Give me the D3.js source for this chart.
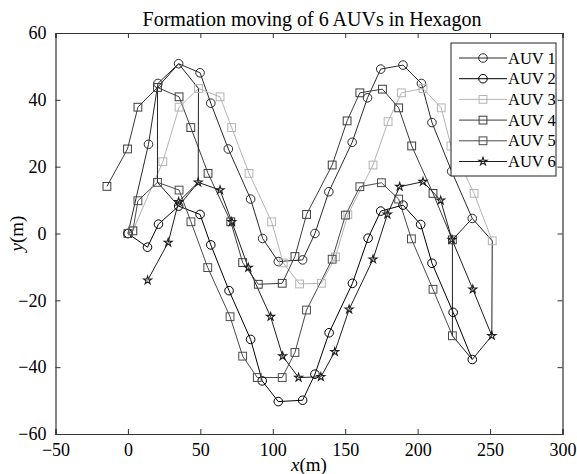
<!DOCTYPE html>
<html>
<head>
<meta charset="utf-8">
<script src="https://cdn.jsdelivr.net/npm/d3@7"></script>
<style>
  body { margin: 0; background: #fff; }
  text { font-family: "Liberation Serif", "Times New Roman", serif; fill: #000; }
</style>
</head>
<body>
<script>
// trajectories (21 steps per vehicle)
var auv1X = [0, 14.2, 20.7, 35, 49.8, 57.2, 69.3, 84.7, 93, 103.8, 120.6, 129.1, 138.7, 154.8, 165.4, 174.5, 189.9, 202.6, 209.9, 223.5, 237.7];
var auv1Y = [0, 26.7, 44.9, 50.8, 48.1, 39, 25.3, 10.3, -1.5, -8.4, -7.9, 0, 12.5, 27.3, 40.6, 49.2, 50.4, 44.9, 33.2, 18.6, 4.5];

var auv2X = [0, 13.5, 21.1, 35, 49.8, 57.2, 69.8, 84.7, 92.7, 103.8, 120.6, 129.1, 138.9, 155, 165.8, 174.5, 189.9, 202.1, 209.9, 224.5, 237.7];
var auv2Y = [0, -4.1, 2.8, 8.2, 5.7, -3.4, -17.1, -31.7, -44.1, -50.3, -49.9, -42.1, -29.7, -14.9, -1.4, 6.7, 8.5, 2.7, -8.9, -23.6, -37.7];

var auv3X = [3.4, 24.1, 35.3, 48.7, 63.6, 71.6, 83.6, 99.2, 107.2, 118.5, 133.5, 143.3, 151.8, 169.2, 179.6, 188.8, 203.7, 216.3, 223, 239, 251.5];
var auv3Y = [0.8, 21.5, 37.8, 43.4, 40.9, 31.7, 18, 3.5, -8.8, -15.1, -14.9, -7, 5.6, 20.5, 33.5, 42.1, 43.4, 37.6, 26.2, 12, -2.2];

var auv4X = [-14.5, -0.3, 6.9, 20.4, 35.3, 43.4, 55.3, 71, 79.2, 90, 106.5, 115.3, 123.3, 141, 151.3, 160.1, 175.7, 186.9, 195.9, 210.6, 224];
var auv4Y = [14.1, 25.3, 37.8, 43.7, 40.9, 31.7, 18, 3.5, -8.7, -15.2, -14.9, -6.9, 5.7, 20.5, 33.7, 42.1, 43.2, 37.6, 26.2, 12, -1.9];

var auv5X = [0, 3.4, 6.9, 20.4, 35.3, 43.5, 55.1, 70.5, 79.2, 89.3, 106.5, 115.3, 123.3, 141, 150.2, 160.1, 175, 186.9, 195.7, 210.6, 224];
var auv5Y = [0, 0.8, 9.8, 15.3, 13, 3.5, -10.2, -24.9, -36.7, -43.1, -43.1, -35.6, -22.9, -7.7, 5.5, 14, 15.2, 10.3, -1.6, -16.7, -30.6];

var auv6X = [13.6, 27.8, 35, 48.5, 63.6, 71.7, 83.1, 98.5, 106.8, 117.8, 133.2, 142.8, 152.7, 169.2, 179.1, 187.6, 203.7, 215.9, 223.7, 238.1, 251.2];
var auv6Y = [-14, -2.7, 9.5, 15.3, 13, 3.5, -10.2, -24.9, -36.7, -43.1, -42.9, -35.4, -22.7, -7.7, 5.7, 14, 15.5, 9.9, -1.8, -16.7, -30.6];

var names = ["AUV 1", "AUV 2", "AUV 3", "AUV 4", "AUV 5", "AUV 6"];
var xTicks = [-50, 0, 50, 100, 150, 200, 250, 300];
var yTicks = [-60, -40, -20, 0, 20, 40, 60];

// steps at which the hexagon outline is drawn, and vertex order (series index)
var hexSteps = [3, 20];
var hexOrder = [3, 0, 2, 5, 1, 4, 3];

var colors = ["#2a2a2a", "#000000", "#b4b4b4", "#3c3c3c", "#4a4a4a", "#1e1e1e"];
var shapes = ["circle", "circle", "square", "square", "square", "star"];

var series = [
  {x: auv1X, y: auv1Y}, {x: auv2X, y: auv2Y}, {x: auv3X, y: auv3Y},
  {x: auv4X, y: auv4Y}, {x: auv5X, y: auv5Y}, {x: auv6X, y: auv6Y}
].map(function (s, i) {
  return {
    name: names[i], color: colors[i], shape: shapes[i],
    pts: s.x.map(function (v, k) { return [v, s.y[k]]; })
  };
});

var W = 577, H = 474;
var margin = {top: 33, right: 14.5, bottom: 40, left: 55.5},
    width = W - margin.left - margin.right,
    height = H - margin.top - margin.bottom;

var svg = d3.select("body").append("svg")
    .attr("width", W)
    .attr("height", H);

var g = svg.append("g")
    .attr("transform", "translate(" + margin.left + "," + margin.top + ")");

var x = d3.scaleLinear().domain([-50, 300]).range([0, width]);
var y = d3.scaleLinear().domain([-60, 60]).range([height, 0]);

function marker(sel, shape, color) {
  if (shape === "circle") {
    sel.append("circle").attr("r", 4.3)
      .attr("fill", "none").attr("stroke", color).attr("stroke-width", 1);
  } else if (shape === "square") {
    sel.append("rect").attr("x", -3.9).attr("y", -3.9)
      .attr("width", 7.8).attr("height", 7.8)
      .attr("fill", "none").attr("stroke", color).attr("stroke-width", 1);
  } else {
    sel.append("path").attr("d", d3.symbol(d3.symbolStar, 20)())
      .attr("fill", "none").attr("stroke", color).attr("stroke-width", 1.1);
  }
}

var line = d3.line().x(function (d) { return x(d[0]); }).y(function (d) { return y(d[1]); });

// axes (ticks inward, mirrored on all sides)
var tickLen = 5;
var xAxis = g.append("g").attr("transform", "translate(0," + height + ")")
  .call(d3.axisBottom(x).tickValues(xTicks).tickSize(-tickLen).tickPadding(9).tickFormat(d3.format("d")));
g.append("g")
  .call(d3.axisTop(x).tickValues(xTicks).tickSize(-tickLen).tickFormat(""));
var yAxis = g.append("g")
  .call(d3.axisLeft(y).tickValues(yTicks).tickSize(-tickLen).tickPadding(9).tickFormat(d3.format("d")));
g.append("g").attr("transform", "translate(" + width + ",0)")
  .call(d3.axisRight(y).tickValues(yTicks).tickSize(-tickLen).tickFormat(""));

xAxis.attr("font-family", "Liberation Serif").attr("font-size", 18);
yAxis.attr("font-family", "Liberation Serif").attr("font-size", 18);
g.selectAll(".domain").attr("stroke", "#333").attr("stroke-width", 1.2);
g.selectAll(".tick line").attr("stroke", "#333");

// trajectories
series.forEach(function (s) {
  g.append("path").datum(s.pts)
    .attr("d", line)
    .attr("fill", "none")
    .attr("stroke", s.color)
    .attr("stroke-width", 1);
});

// hexagon formations
hexSteps.forEach(function (k) {
  var poly = hexOrder.map(function (i) { return series[i].pts[k]; });
  g.append("path").datum(poly)
    .attr("d", line)
    .attr("fill", "none")
    .attr("stroke", "#222")
    .attr("stroke-width", 1);
});

// markers
series.forEach(function (s) {
  g.append("g").selectAll("g")
    .data(s.pts).enter().append("g")
      .attr("transform", function (d) { return "translate(" + x(d[0]) + "," + y(d[1]) + ")"; })
      .each(function () { marker(d3.select(this), s.shape, s.color); });
});

// legend
var lg = svg.append("g").attr("transform", "translate(451,43)");
lg.append("rect").attr("width", 105).attr("height", 133)
  .attr("fill", "#fff").attr("stroke", "#222").attr("stroke-width", 1);
series.forEach(function (s, i) {
  var row = lg.append("g").attr("transform", "translate(0," + (15 + i * 20.7) + ")");
  row.append("line").attr("x1", 8).attr("x2", 56)
    .attr("stroke", s.color).attr("stroke-width", 1);
  marker(row.append("g").attr("transform", "translate(32,0)"), s.shape, s.color);
  row.append("text").attr("x", 57).attr("y", 5.5)
    .style("font-size", "16.5px").text(s.name);
});

// title and axis labels
svg.append("text")
  .attr("x", 312).attr("y", 25.5)
  .attr("text-anchor", "middle")
  .style("font-size", "20px")
  .text("Formation moving of 6 AUVs in Hexagon");

var xl = svg.append("text")
  .attr("x", margin.left + width / 2).attr("y", 471)
  .attr("text-anchor", "middle")
  .style("font-size", "19px");
xl.append("tspan").style("font-style", "italic").text("x");
xl.append("tspan").text("(m)");

var yl = svg.append("text")
  .attr("transform", "translate(23," + (margin.top + height / 2) + ") rotate(-90)")
  .attr("text-anchor", "middle")
  .style("font-size", "19px");
yl.append("tspan").style("font-style", "italic").text("y");
yl.append("tspan").text("(m)");
</script>
</body>
</html>
